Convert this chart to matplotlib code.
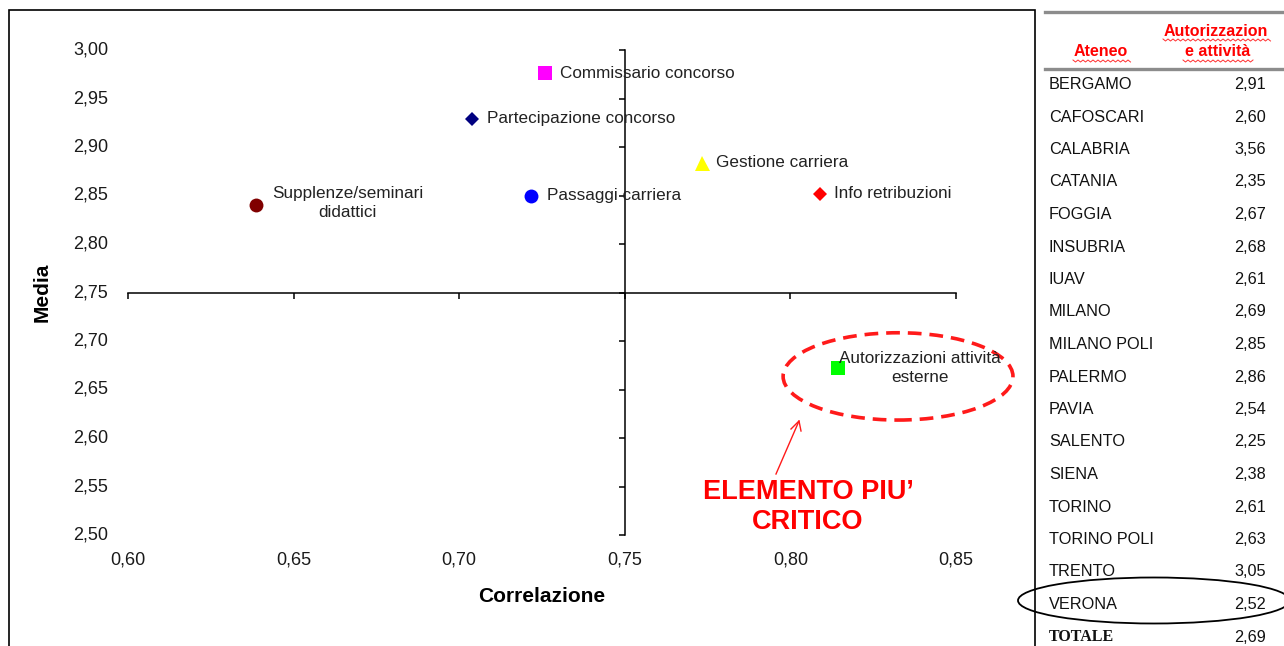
import numpy as np
import matplotlib
matplotlib.use('Agg')
from matplotlib import pyplot as plt
from matplotlib.patches import Ellipse, Rectangle
from matplotlib.lines import Line2D
from matplotlib.transforms import blended_transform_factory

# elementi del questionario: correlazione vs media
elementi = ['Supplenze/seminari\ndidattici', 'Partecipazione concorso', 'Commissario concorso',
            'Passaggi carriera', 'Gestione carriera', 'Info retribuzioni',
            'Autorizzazioni attività\nesterne']
correlazione = [0.6386, 0.7040, 0.7258, 0.7217, 0.7732, 0.8088, 0.8144]
media = [2.840, 2.929, 2.976, 2.850, 2.884, 2.852, 2.672]

# tabella laterale per ateneo
atenei = ['BERGAMO', 'CAFOSCARI', 'CALABRIA', 'CATANIA', 'FOGGIA', 'INSUBRIA', 'IUAV',
          'MILANO', 'MILANO POLI', 'PALERMO', 'PAVIA', 'SALENTO', 'SIENA', 'TORINO',
          'TORINO POLI', 'TRENTO', 'VERONA', 'TOTALE']
autorizzazioni = [2.91, 2.60, 3.56, 2.35, 2.67, 2.68, 2.61, 2.69, 2.85, 2.86, 2.54,
                  2.25, 2.38, 2.61, 2.63, 3.05, 2.52, 2.69]

x_ticks = [0.60, 0.65, 0.70, 0.75, 0.80, 0.85]
y_ticks = [2.50, 2.55, 2.60, 2.65, 2.70, 2.75, 2.80, 2.85, 2.90, 2.95, 3.00]

# stile dei marker e posizione delle etichette (offset in punti)
stili = [('o', '#800000', 10), ('D', '#000080', 7.6), ('s', '#ff00ff', 9.4),
         ('o', '#0000ff', 10), ('^', '#ffff00', 10.8), ('D', '#ff0000', 7.6),
         ('s', '#00ff00', 9.4)]
offset_etichette = [(66, 1.5, 'center'), (10.5, 0, 'left'), (11, 0, 'left'),
                    (11.5, 0, 'left'), (10.5, 0, 'left'), (10.5, 0, 'left'),
                    (59, 0, 'center')]

W, H = 1284, 646
plt.rcParams['font.family'] = ['Liberation Sans', 'DejaVu Sans']
fig = plt.figure(figsize=(W / 100, H / 100), dpi=100)


def fx(px):
    return px / W


def fy(py):
    return 1 - py / H


# cornice del grafico
fig.add_artist(Rectangle((fx(9), fy(660)), fx(1035) - fx(9), fy(10) - fy(660),
                         transform=fig.transFigure, fill=False, edgecolor='black', linewidth=1.2))

ax = fig.add_axes([fx(128), fy(535), fx(956) - fx(128), fy(50) - fy(535)])
ax.set_xlim(0.60, 0.85)
ax.set_ylim(2.50, 3.00)
ax.spines['top'].set_visible(False)
ax.spines['right'].set_visible(False)
ax.spines['left'].set_position(('data', 0.75))
ax.spines['bottom'].set_position(('data', 2.75))
for s in ('left', 'bottom'):
    ax.spines[s].set_linewidth(1.1)
ax.set_xticks(x_ticks)
ax.set_yticks(y_ticks)
ax.tick_params(direction='out', length=4.5, width=1.1, labelleft=False, labelbottom=False)

tr_y = blended_transform_factory(ax.transAxes, ax.transData)
for v in y_ticks:
    ax.text(-0.024, v, f'{v:.2f}'.replace('.', ','), transform=tr_y, ha='right', va='center',
            fontsize=13, color='#1a1a1a')
tr_x = blended_transform_factory(ax.transData, ax.transAxes)
for v in x_ticks:
    ax.text(v, -0.052, f'{v:.2f}'.replace('.', ','), transform=tr_x, ha='center', va='center',
            fontsize=13, color='#1a1a1a')

fig.text(fx(542), fy(597), 'Correlazione', ha='center', va='center', fontsize=15, fontweight='bold')
fig.text(fx(42), fy(292), 'Media', ha='center', va='center', rotation=90, fontsize=15,
         fontweight='bold')

for nome, xv, yv, (m, c, ms), (dx, dy, ha) in zip(elementi, correlazione, media, stili,
                                                   offset_etichette):
    ax.plot(xv, yv, marker=m, color=c, markersize=ms, markeredgewidth=0, linestyle='none',
            clip_on=False, zorder=3)
    ax.annotate(nome, (xv, yv), xytext=(dx, dy), textcoords='offset points', ha=ha,
                va='center', fontsize=12.3, color='#222222', multialignment='center',
                linespacing=1.3)

# evidenziazione dell'elemento critico
critico = elementi.index('Autorizzazioni attività\nesterne')
ax.add_patch(Ellipse((correlazione[critico] + 0.0181, media[critico] - 0.0085), 0.0694, 0.090,
                     fill=False, edgecolor='#ff1a1a', linewidth=2.6, linestyle=(0, (3.8, 2.2)),
                     clip_on=False))
fig.add_artist(Line2D([fx(776), fx(799)], [fy(474), fy(421)], transform=fig.transFigure,
                      color='#ff1a1a', linewidth=1.0))
fig.add_artist(Line2D([fx(791), fx(799), fx(801)], [fy(429), fy(421), fy(431)],
                      transform=fig.transFigure, color='#ff1a1a', linewidth=1.0))
fig.text(fx(808), fy(507), 'ELEMENTO PIU’\nCRITICO', ha='center', va='center', fontsize=19.5,
         fontweight='bold', color='#ff0000', linespacing=1.22)

# tabella
fig.add_artist(Line2D([fx(1045), fx(1284)], [fy(11.5), fy(11.5)], transform=fig.transFigure,
                      color='#8c8c8c', linewidth=2.4))
fig.add_artist(Line2D([fx(1045), fx(1284)], [fy(68.5), fy(68.5)], transform=fig.transFigure,
                      color='#8c8c8c', linewidth=2.4))


def ondina(x0, x1, y):
    xs = np.arange(x0, x1 + 1, 2.5)
    ys = y + np.where(np.arange(len(xs)) % 2 == 0, -1.0, 1.0)
    fig.add_artist(Line2D(fx(xs), fy(ys), transform=fig.transFigure, color='#ff3030',
                          linewidth=0.7))


fig.text(fx(1101), fy(52), 'Ateneo', ha='center', va='center', fontsize=11.5,
         fontweight='bold', color='#ff0000')
fig.text(fx(1216), fy(31), 'Autorizzazion', ha='center', va='center', fontsize=11.5,
         fontweight='bold', color='#ff0000')
fig.text(fx(1218), fy(52), 'e attività', ha='center', va='center', fontsize=11.5,
         fontweight='bold', color='#ff0000')
ondina(1073, 1130, 61)
ondina(1163, 1270, 40)
ondina(1183, 1253, 61)

for i, (nome, val) in enumerate(zip(atenei, autorizzazioni)):
    y = 84.5 + i * 32.5
    if nome == 'TOTALE':
        fig.text(fx(1049), fy(y), nome, ha='left', va='center', fontsize=11.5,
                 family='Liberation Serif', fontweight='bold', color='#111111')
    else:
        fig.text(fx(1049), fy(y), nome, ha='left', va='center', fontsize=11.7, color='#111111')
    fig.text(fx(1266), fy(y), f'{val:.2f}'.replace('.', ','), ha='right', va='center',
             fontsize=11.7, color='#111111')

verona = atenei.index('VERONA')
fig.add_artist(Ellipse((fx(1154), fy(84.5 + verona * 32.5 - 4)), fx(272), 46 / H,
                       transform=fig.transFigure, fill=False, edgecolor='black', linewidth=1.3))

fig.savefig('out.png', dpi=100)
plt.close(fig)
